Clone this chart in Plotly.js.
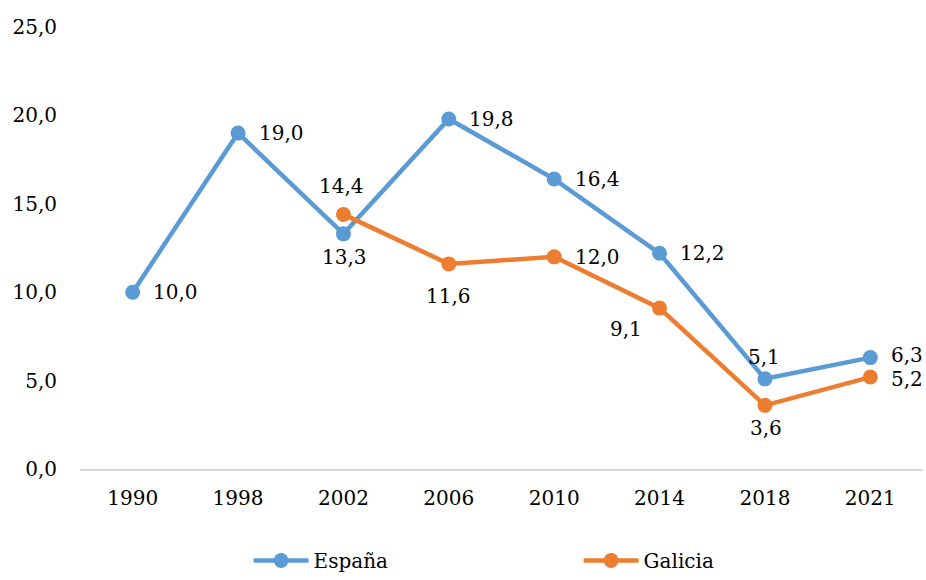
<!DOCTYPE html>
<html><head><meta charset="utf-8">
<script src="https://cdn.plot.ly/plotly-3.0.1.min.js"></script>
<style>body{margin:0;background:#fff}#c{width:926px;height:580px}</style>
</head><body><div id="c"></div>
<script>
const years = ['1990','1998','2002','2006','2010','2014','2018','2021'];
const espana = [10.0, 19.0, 13.3, 19.8, 16.4, 12.2, 5.1, 6.3];
const galicia = [null, null, 14.4, 11.6, 12.0, 9.1, 3.6, 5.2];
const espanaPos = ['right','right','below','right','right','right','above','right-up'];
const galiciaPos = [null,null,'above-far','below-far','right','below-left','below','right-down'];
const yTicks = [0,5,10,15,20,25];
const fmt = v => v==null ? '' : v.toFixed(1).replace('.', ',');
const FONT = 'DejaVu Serif, serif';
const BLUE = '#5B9BD5', ORANGE = '#ED7D31';
const SHIFT = {
  'right': [43, 0], 'right-up': [37, 3], 'right-down': [37, -2], 'below': [1, -23],
  'below-far': [0, -32], 'above': [-1, 22], 'above-far': [-2, 28], 'below-left': [-34, -21]
};
const traces = [
  {x: years, y: espana, name: 'España', type: 'scatter', mode: 'lines+markers',
   line: {color: BLUE, width: 4.5}, marker: {color: BLUE, size: 15}},
  {x: years, y: galicia, name: 'Galicia', type: 'scatter', mode: 'lines+markers',
   line: {color: ORANGE, width: 4.5}, marker: {color: ORANGE, size: 15}}
];
const annotations = [];
function addLabels(vals, pos) {
  vals.forEach((v, i) => {
    if (v == null) return;
    const s = SHIFT[pos[i]];
    annotations.push({x: i, y: v, text: fmt(v), showarrow: false,
      xanchor: 'center', yanchor: 'middle', xshift: s[0], yshift: s[1],
      font: {family: FONT, size: 20, color: '#000'}});
  });
}
addLabels(espana, espanaPos);
addLabels(galicia, galiciaPos);
const layout = {
  width: 926, height: 580,
  margin: {l: 80, r: 3, t: 27, b: 111},
  paper_bgcolor: '#fff', plot_bgcolor: '#fff',
  font: {family: FONT, size: 20, color: '#000'},
  showlegend: true,
  legend: {orientation: 'h', x: 0.2, xanchor: 'left', yref: 'container', y: -0.013, yanchor: 'bottom',
           entrywidth: 260, itemwidth: 55, font: {family: FONT, size: 20, color: '#000'}},
  annotations: annotations,
  xaxis: {type: 'category', range: [-0.5, years.length - 0.5], showgrid: false, showline: true,
          linecolor: '#D9D9D9', linewidth: 2, ticks: '', ticklabelstandoff: 10,
          tickfont: {family: FONT, size: 20}, automargin: false},
  yaxis: {range: [0, 25], tickvals: yTicks, ticktext: yTicks.map(fmt), showgrid: false,
          zeroline: false, showline: false, ticks: '', ticklabelstandoff: 22,
          tickfont: {family: FONT, size: 20}, automargin: false}
};
Plotly.newPlot('c', traces, layout, {displayModeBar: false, staticPlot: true});
</script></body></html>
